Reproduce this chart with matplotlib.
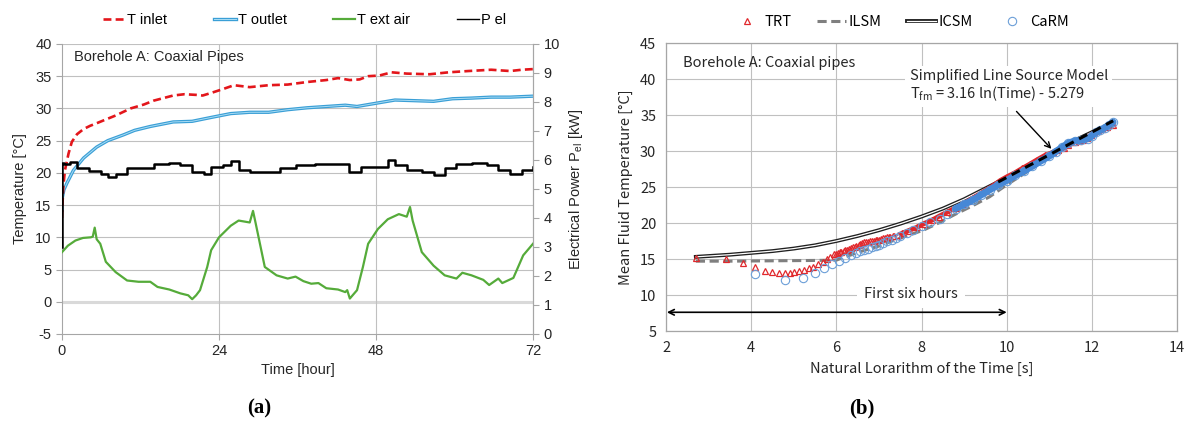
import numpy as np
import matplotlib
matplotlib.use('Agg')
import matplotlib.pyplot as plt
import matplotlib.patheffects as pe
from matplotlib.lines import Line2D

plt.rcParams['axes.unicode_minus'] = False

# ---- (a) borehole test, time series ----
t_inlet = [0, 0.05, 0.2, 0.45, 1.0, 1.5, 2.3, 3.3, 4.3, 5.3, 6.5, 8.2, 10.5, 12.5, 14.0, 15.5, 17.0, 18.7,
           20.5, 21.5, 22.8, 24.6, 26.3, 28.7, 31.6, 34.5, 37.5, 40.4, 42.2, 44.0, 45.5, 46.8, 48.5, 50.4,
           52.7, 56.2, 59.1, 62.1, 65.6, 68.5, 70.3, 72]
T_inlet = [13.0, 14.5, 17.9, 20.4, 23.0, 24.8, 26.0, 26.8, 27.3, 27.7, 28.2, 28.9, 30.0, 30.6, 31.2, 31.6,
           32.0, 32.2, 32.1, 32.0, 32.4, 33.0, 33.6, 33.3, 33.6, 33.7, 34.1, 34.4, 34.7, 34.4, 34.5, 35.0,
           35.1, 35.6, 35.4, 35.3, 35.6, 35.8, 36.0, 35.8, 36.0, 36.1]

t_outlet = [0, 0.02, 0.3, 0.75, 1.75, 3.3, 5.3, 7.0, 9.4, 11.1, 13.5, 15.0, 17.0, 19.9, 22.8, 25.8, 28.7,
            31.6, 34.5, 37.5, 40.4, 43.3, 45.1, 48.0, 50.9, 53.9, 56.8, 59.7, 62.6, 65.6, 68.5, 72]
T_outlet = [14.2, 16.0, 17.4, 18.4, 20.4, 22.3, 24.0, 25.0, 25.9, 26.6, 27.2, 27.5, 27.9, 28.0, 28.6, 29.2,
            29.4, 29.4, 29.8, 30.1, 30.3, 30.5, 30.3, 30.8, 31.3, 31.2, 31.1, 31.5, 31.6, 31.75, 31.75, 31.9]

t_air = [0, 0.9, 2.05, 3.2, 4.4, 4.7, 5.0, 5.3, 5.85, 6.7, 8.2, 9.95, 11.7, 13.5, 14.6, 16.4, 18.1, 19.3,
         19.9, 20.5, 21.1, 22.2, 22.8, 24.0, 25.8, 27.0, 28.7, 29.2, 29.6, 31.0, 32.8, 34.5, 35.7, 36.9,
         38.1, 39.2, 40.4, 42.2, 43.3, 43.6, 44.0, 45.1, 46.0, 46.8, 48.3, 49.8, 51.5, 52.7, 53.2, 53.6,
         55.0, 56.8, 58.5, 60.3, 61.2, 62.6, 64.4, 65.3, 66.7, 67.3, 69.0, 70.5, 72]
T_air = [7.7, 8.7, 9.5, 9.9, 10.0, 10.1, 11.5, 9.7, 9.0, 6.2, 4.6, 3.3, 3.1, 3.1, 2.3, 1.9, 1.3, 1.0,
         0.4, 1.0, 1.8, 5.4, 8.0, 10.0, 11.8, 12.6, 12.3, 14.1, 12.2, 5.4, 4.1, 3.6, 3.9, 3.2,
         2.8, 2.9, 2.1, 1.9, 1.5, 1.8, 0.5, 1.8, 5.4, 9.0, 11.3, 12.8, 13.6, 13.2, 14.7, 12.6,
         7.7, 5.6, 4.1, 3.6, 4.5, 4.1, 3.4, 2.6, 3.6, 2.9, 3.7, 7.2, 9.0]

t_pel = [0, 0.02, 0.3, 1.2, 2.3, 4.1, 5.9, 7.0, 8.2, 9.95, 12.3, 14.05, 16.4, 18.1, 19.9, 21.7, 22.8, 24.6,
         25.8, 27.0, 28.7, 31.6, 33.4, 35.7, 38.6, 41.6, 43.9, 45.7, 48.0, 49.8, 50.9, 52.7, 55.0, 56.8,
         58.5, 60.3, 62.6, 65.0, 66.7, 68.5, 70.3, 72]
P_el = [3.0, 5.9, 5.87, 5.93, 5.71, 5.63, 5.53, 5.43, 5.53, 5.71, 5.71, 5.87, 5.89, 5.82, 5.6, 5.53, 5.76,
        5.84, 5.97, 5.65, 5.6, 5.6, 5.71, 5.82, 5.87, 5.87, 5.6, 5.76, 5.76, 6.0, 5.82, 5.65, 5.6, 5.47,
        5.71, 5.87, 5.89, 5.82, 5.65, 5.53, 5.65, 5.76]

# ---- (b) mean fluid temperature vs ln(time) ----
trt_x = [2.70, 3.41, 3.80, 4.10, 4.33, 4.50, 4.66, 4.79, 4.91, 5.01, 5.12, 5.23, 5.35, 5.46, 5.56, 5.68,
         5.77, 5.85, 5.94, 5.98, 6.03, 6.08, 6.12, 6.17, 6.21, 6.26, 6.30, 6.34, 6.38, 6.43, 6.47, 6.52,
         6.56, 6.61, 6.65, 6.70, 6.74, 6.79, 6.83, 6.88, 6.92, 6.96, 7.0, 7.05, 7.09, 7.14, 7.18, 7.23,
         7.27, 7.32, 7.36, 7.45, 7.54, 7.7, 7.89, 8.05, 8.25, 8.4, 8.6, 8.8, 8.95, 9.1, 9.3, 9.5, 9.66,
         9.85, 10.0, 10.2, 10.37, 10.55, 10.72, 10.9, 11.08, 11.2, 11.34, 11.45, 11.52, 11.6, 11.7, 11.8,
         11.88, 11.97, 12.05, 12.15, 12.23, 12.35, 12.5]
trt_y = [15.2, 14.96, 14.5, 13.9, 13.3, 13.15, 13.0, 13.0, 13.05, 13.15, 13.3, 13.5, 13.7, 13.9, 14.25,
         14.6, 14.95, 15.3, 15.65, 15.75, 15.85, 15.95, 16.0, 16.1, 16.2, 16.3, 16.4, 16.5, 16.6, 16.7,
         16.85, 17.0, 17.1, 17.2, 17.3, 17.35, 17.4, 17.45, 17.5, 17.55, 17.6, 17.65, 17.7, 17.8, 17.85,
         17.9, 18.0, 18.05, 18.1, 18.15, 18.2, 18.35, 18.55, 18.95, 19.4, 19.9, 20.4, 20.9, 21.5, 22.1,
         22.6, 23.1, 23.8, 24.5, 25.1, 25.9, 26.4, 27.0, 27.6, 28.2, 28.8, 29.4, 29.8, 30.1, 30.4, 30.9,
         31.2, 31.3, 31.4, 31.5, 31.8, 32.2, 32.5, 32.8, 33.1, 33.4, 33.6]

carm_x = [4.10, 4.79, 5.21, 5.50, 5.72, 5.90, 6.06, 6.21, 6.34, 6.47, 6.56, 6.65, 6.74, 6.83, 6.92, 7.0,
          7.1, 7.2, 7.3, 7.4, 7.5, 7.65, 7.8, 8.0, 8.2, 8.44, 8.6, 8.8, 9.0, 9.21, 9.4, 9.6, 9.8, 10.0,
          10.2, 10.4, 10.6, 10.8, 11.0, 11.15, 11.3, 11.45, 11.6, 11.75, 11.9, 12.0, 12.1, 12.2, 12.3,
          12.4, 12.5]
carm_y = [12.9, 12.1, 12.3, 13.0, 13.7, 14.3, 14.75, 15.2, 15.5, 15.9, 16.1, 16.25, 16.45, 16.65, 16.85,
          17.0, 17.2, 17.45, 17.7, 17.95, 18.2, 18.6, 19.0, 19.6, 20.1, 20.6, 21.2, 22.0, 22.6, 23.2,
          23.9, 24.6, 25.3, 25.9, 26.6, 27.2, 27.9, 28.6, 29.3, 29.9, 30.5, 31.1, 31.4, 31.5, 31.7, 32.1,
          32.6, 32.9, 33.2, 33.6, 34.0]

ilsm_x = [2.7, 3.5, 4.5, 5.5, 6.0, 6.21, 6.55, 7.0, 7.26, 7.6, 8.04, 8.4, 8.82, 9.2, 9.6, 10.0, 10.5,
          11.0, 11.5, 12.0, 12.5]
ilsm_y = [14.7, 14.7, 14.75, 14.8, 14.85, 15.3, 16.0, 16.8, 17.4, 18.1, 19.0, 20.0, 21.3, 22.4, 23.65,
          25.3, 27.2, 29.2, 31.0, 32.6, 34.0]

icsm_x = [2.7, 3.5, 4.0, 4.5, 5.0, 5.5, 6.0, 6.5, 7.0, 7.5, 8.0, 8.5, 9.0, 9.5, 10.0, 10.5, 11.0, 11.5,
          12.0, 12.5]
icsm_y = [15.3, 15.6, 15.85, 16.1, 16.45, 16.9, 17.5, 18.2, 19.0, 19.9, 20.9, 22.0, 23.3, 24.8, 26.3,
          27.9, 29.6, 31.2, 32.6, 33.9]

fit_x = [9.8, 12.5]
fit_y = [25.7, 34.2]

grid_c = '#c0c0c0'
spine_c = '#a6a6a6'
txt_c = '#262626'

fig = plt.figure(figsize=(11.9, 4.26), dpi=100)

# ================= left panel =================
left_font = 'Liberation Sans'
ax1 = fig.add_axes([0.0521, 0.216, 0.3958, 0.6808])
ax1.set_xlim(0, 72)
ax1.set_ylim(-5, 40)
ax1.set_xticks([0, 24, 48, 72])
ax1.set_yticks(range(-5, 41, 5))
for y in range(-5, 41, 5):
    if y == 0:
        ax1.axhline(y, color='#d9d9d9', lw=2.2, zorder=0)
    elif y > -5:
        ax1.axhline(y, color=grid_c, lw=0.8, zorder=0)
for x in [24, 48]:
    ax1.axvline(x, color=grid_c, lw=0.8, zorder=0)
ax1.spines['top'].set_visible(False)
for s in ['left', 'bottom', 'right']:
    ax1.spines[s].set_color(spine_c)
    ax1.spines[s].set_linewidth(0.8)
ax1.tick_params(length=4, color=spine_c, labelsize=10.5, labelcolor=txt_c)
for lab in ax1.get_xticklabels() + ax1.get_yticklabels():
    lab.set_family(left_font)

ax2 = ax1.twinx()
ax2.set_ylim(0, 10)
ax2.set_yticks(range(0, 11))
for s in ['top', 'left', 'bottom']:
    ax2.spines[s].set_visible(False)
ax2.spines['right'].set_color(spine_c)
ax2.tick_params(length=4, color=spine_c, labelsize=10.5, labelcolor=txt_c)
for lab in ax2.get_yticklabels():
    lab.set_family(left_font)

red_dash = (0, (3.0, 1.6))
ax1.plot(t_air, T_air, color='#55ab3a', lw=1.6, zorder=3)
ax1.plot(t_outlet, T_outlet, color='#a9dcf4', lw=0.7, zorder=4,
         path_effects=[pe.Stroke(linewidth=2.4, foreground='#3a9fd6'), pe.Normal()])
ax1.plot(t_inlet, T_inlet, color='#e3161b', lw=1.9, ls=red_dash, zorder=5)
ax2.plot(t_pel, P_el, color='black', lw=1.8, drawstyle='steps-post', zorder=6)

ax1.text(0.025, 0.955, 'Borehole A: Coaxial Pipes', transform=ax1.transAxes, va='center',
         fontsize=10.5, family=left_font, color=txt_c)
ax1.set_xlabel('Time [hour]', fontsize=10.5, family=left_font, color=txt_c, labelpad=3)
ax1.set_ylabel('Temperature [°C]', fontsize=10.5, family=left_font, color=txt_c, labelpad=6)
ax2.set_ylabel('Electrical Power P$_{\\mathregular{el}}$ [kW]', fontsize=10.5, family=left_font,
               color=txt_c, labelpad=5)

h_left = [Line2D([], [], color='#e3161b', lw=1.9, ls=red_dash),
          Line2D([], [], color='#a9dcf4', lw=0.7,
                 path_effects=[pe.Stroke(linewidth=2.4, foreground='#3a9fd6'), pe.Normal()]),
          Line2D([], [], color='#55ab3a', lw=1.6),
          Line2D([], [], color='black', lw=1.0)]
fig.legend(h_left, ['T inlet', 'T outlet', 'T ext air', 'P el'], loc='center',
           bbox_to_anchor=(0.256, 0.952), ncol=4, frameon=False, handlelength=1.5,
           handletextpad=0.15, columnspacing=3.2, prop={'family': left_font, 'size': 10.5})

# ================= right panel =================
right_font = ['Noto Sans CJK KR', 'DejaVu Sans']
ax3 = fig.add_axes([0.5597, 0.223, 0.4294, 0.676])
ax3.set_xlim(2, 14)
ax3.set_ylim(5, 45)
ax3.set_xticks(range(2, 15, 2))
ax3.set_yticks(range(5, 46, 5))
ax3.grid(True, color=grid_c, lw=0.8, zorder=0)
ax3.set_axisbelow(True)
for s in ax3.spines.values():
    s.set_color(spine_c)
    s.set_linewidth(0.9)
ax3.tick_params(length=0, labelsize=10.5, labelcolor=txt_c, pad=7)
for lab in ax3.get_xticklabels() + ax3.get_yticklabels():
    lab.set_family(right_font)

ax3.plot(ilsm_x, ilsm_y, color='#7f7f7f', lw=2.2, ls=(0, (3, 1.5)), zorder=3)
ax3.plot(icsm_x, icsm_y, color='white', lw=0.9, zorder=4,
         path_effects=[pe.Stroke(linewidth=2.8, foreground='#202020'), pe.Normal()])
ax3.plot(trt_x, trt_y, ls='none', marker='^', ms=5, mfc='none', mec='#e0282c', mew=0.9, zorder=5)
ax3.plot(trt_x[52:], trt_y[52:], color='#e0282c', lw=3.5, zorder=5)
ax3.plot(carm_x, carm_y, ls='none', marker='o', ms=6, mfc='none', mec='#6c9fd8', mew=0.8, zorder=6)
ax3.plot(carm_x[27:], carm_y[27:], color='#4688d6', lw=5, zorder=6.5, solid_capstyle='round')
ax3.plot(fit_x, fit_y, color='black', lw=2.2, ls=(0, (3, 2)), zorder=7)

ax3.text(2.4, 42.2, 'Borehole A: Coaxial pipes', va='center', fontsize=10.5, family=right_font,
         color=txt_c)
ax3.text(7.72, 39.05, 'Simplified Line Source Model\nT$_{\\mathregular{fm}}$ = 3.16 ln(Time) - 5.279',
         va='center', ha='left', fontsize=10.5, family=right_font, color=txt_c, linespacing=1.15,
         bbox=dict(facecolor='white', edgecolor='none', pad=3), zorder=8)
ax3.annotate('', xy=(11.05, 30.3), xytext=(10.23, 35.5),
             arrowprops=dict(arrowstyle='->', color='black', lw=1.0, shrinkA=0, shrinkB=0), zorder=9)
ax3.text(7.75, 10.2, 'First six hours', va='center', ha='center', fontsize=10.5, family=right_font,
         color=txt_c, bbox=dict(facecolor='white', edgecolor='none', pad=5), zorder=8)
ax3.annotate('', xy=(2.02, 7.6), xytext=(10.0, 7.6),
             arrowprops=dict(arrowstyle='<->', color='black', lw=1.2, shrinkA=0, shrinkB=0), zorder=9)

ax3.set_xlabel('Natural Lorarithm of the Time [s]', fontsize=10.5, family=right_font, color=txt_c,
               labelpad=5)
ax3.set_ylabel('Mean Fluid Temperature [°C]', fontsize=10.5, family=right_font, color=txt_c,
               labelpad=5)

h_right = [Line2D([], [], ls='none', marker='^', ms=5, mfc='none', mec='#e0282c', mew=0.9),
           Line2D([], [], color='#7f7f7f', lw=2.2, ls=(0, (3, 1.5))),
           Line2D([], [], color='white', lw=0.9,
                  path_effects=[pe.Stroke(linewidth=2.8, foreground='#202020'), pe.Normal()]),
           Line2D([], [], ls='none', marker='o', ms=6, mfc='none', mec='#6c9fd8', mew=0.8)]
fig.legend(h_right, ['TRT', 'ILSM', 'ICSM', 'CaRM'], loc='center', bbox_to_anchor=(0.757, 0.948),
           ncol=4, frameon=False, handlelength=2.0, handletextpad=0.2, columnspacing=1.7,
           prop={'family': right_font[0], 'size': 10.5})

fig.text(0.2176, 0.042, '(a)', ha='center', va='center', fontsize=15, fontweight='bold',
         family='Liberation Serif')
fig.text(0.7244, 0.042, '(b)', ha='center', va='center', fontsize=15, fontweight='bold',
         family='Liberation Serif')

fig.savefig('out.png', dpi=100)
